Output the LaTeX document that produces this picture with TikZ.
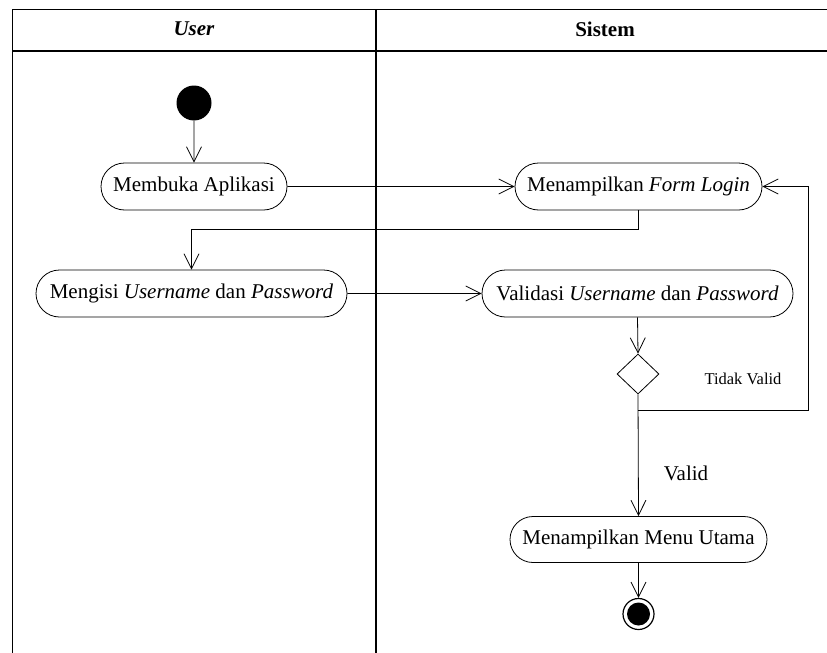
\documentclass[tikz,border=0pt]{standalone}
\usepackage{fontspec}
\setmainfont{Liberation Serif}
\usetikzlibrary{arrows.meta,shapes.geometric,shapes.misc}
\tikzset{
  act/.style={draw, line width=0.8pt, rounded rectangle, minimum height=47pt, inner sep=0pt, font=\fontsize{21}{25}\selectfont},
  flow/.style={draw, line width=0.8pt, -{Straight Barb[length=15pt,width=15pt,line width=0.8pt]}},
  plain/.style={draw, line width=0.8pt},
  frame/.style={line width=1.3pt},
  lbl/.style={font=\fontsize{21}{25}\selectfont},
  smalllbl/.style={font=\fontsize{16.5}{20}\selectfont},
  hdr/.style={font=\fontsize{21}{25}\selectfont\bfseries},
}
\begin{document}
\begin{tikzpicture}[x=1pt,y=-1pt]
\useasboundingbox (0,0) rectangle (827,653);
% swimlane frame
\draw[frame] (12.5,653) -- (12.5,9.5) -- (827,9.5);
\draw[frame] (12.5,51) -- (827,51);
\draw[line width=1.8pt] (376,9.5) -- (376,653);
\node[hdr] (huser) at (194,29) {\itshape User};
\node[hdr] (hsis) at (605,29) {Sistem};
% nodes
\node[circle, fill=black, minimum size=35pt, inner sep=0pt] (init) at (194,103) {};
\node[act, minimum width=186pt] (buka) at (194,186.5) {Membuka Aplikasi};
\node[act, minimum width=247pt] (form) at (638.5,186.5) {Menampilkan \textit{Form Login}};
\node[act, minimum width=311pt] (isi) at (191.5,293.5) {Mengisi \textit{Username} dan \textit{Password}};
\node[act, minimum width=311pt] (valid) at (637.5,293.5) {Validasi \textit{Username} dan \textit{Password}};
\node[diamond, draw, line width=0.8pt, minimum width=42pt, minimum height=40pt, inner sep=0pt] (dec) at (638,374) {};
\node[act, minimum width=257pt, minimum height=46pt] (menu) at (638.5,539.5) {Menampilkan Menu Utama};
\node[circle, draw, line width=1.2pt, minimum size=31pt, inner sep=0pt] (final) at (638.5,614) {};
\node[circle, fill=black, minimum size=23pt, inner sep=0pt] (finalin) at (final.center) {};
% connectors
\draw[flow] (init) -- (buka);
\draw[flow] (buka) -- (form);
\draw[flow] (form.south) -- ++(0,19) -| (isi.north);
\draw[flow] (isi) -- (valid);
\draw[flow] (valid.south) -- (dec.north);
\path (dec.south) ++(0,16) coordinate (split);
\draw[flow] (dec.south) -- (menu.north);
\draw[flow] (split) -- ++(170,0) |- (form.east);
\draw[flow] (menu.south) -- (final.north);
% labels
\node[smalllbl] (tv) at (743,379) {Tidak Valid};
\node[lbl] (v) at (686,473) {Valid};
\end{tikzpicture}
\end{document}
